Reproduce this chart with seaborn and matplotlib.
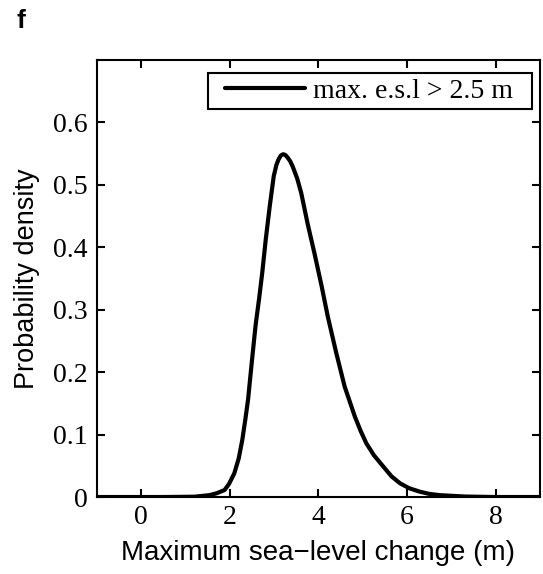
import numpy as np
import pandas as pd
import matplotlib
matplotlib.use("Agg")
import matplotlib.pyplot as plt
from matplotlib.lines import Line2D
from matplotlib.legend_handler import HandlerLine2D
import seaborn as sns

# curve
sea_level = [-1.0, 0.5, 1.2, 1.54, 1.70, 1.88, 1.98, 2.10, 2.20, 2.28, 2.35, 2.41,
             2.50, 2.58, 2.66, 2.73, 2.81, 2.90, 2.99, 3.05, 3.10, 3.15, 3.20, 3.25,
             3.30, 3.36, 3.42, 3.52, 3.61, 3.76, 3.91, 4.07, 4.21, 4.40, 4.59, 4.82,
             4.95, 5.08, 5.25, 5.46, 5.65, 5.84, 6.05, 6.29, 6.50, 6.74, 7.3, 8.0, 9.0]
density = [0.0, 0.0, 0.0005, 0.003, 0.006, 0.0112, 0.021, 0.038, 0.062, 0.0915, 0.125, 0.156,
           0.220, 0.275, 0.318, 0.359, 0.413, 0.466, 0.514, 0.532, 0.541, 0.547, 0.549, 0.548,
           0.544, 0.538, 0.529, 0.510, 0.487, 0.436, 0.390, 0.338, 0.289, 0.231, 0.177, 0.129,
           0.106, 0.086, 0.067, 0.049, 0.033, 0.022, 0.014, 0.0085, 0.005, 0.003, 0.0008, 0.0, 0.0]
legend_label = "max. e.s.l > 2.5 m"
x_ticks = [0, 2, 4, 6, 8]
y_ticks = [0, 0.1, 0.2, 0.3, 0.4, 0.5, 0.6]

df = pd.DataFrame({"x": sea_level, "y": density})

sns.set_style("ticks")
plt.rcParams["font.family"] = ["Liberation Serif", "DejaVu Serif"]
plt.rcParams["axes.linewidth"] = 1.5
plt.rcParams["text.color"] = "black"
plt.rcParams["axes.labelcolor"] = "black"

fig = plt.figure(figsize=(5.43, 5.74), dpi=100)
ax = fig.add_axes([0.1786, 0.1341, 0.8159, 0.7614])

sns.lineplot(data=df, x="x", y="y", ax=ax, color="black", linewidth=3.0,
             label=legend_label + "  ", sort=False, solid_joinstyle="round",
             solid_capstyle="round")

ax.set_xlim(-1, 9)
ax.set_ylim(0, 0.7)
ax.set_xticks(x_ticks)
ax.set_xticklabels([str(t) for t in x_ticks])
ax.set_yticks(y_ticks)
ax.set_yticklabels(["0" if t == 0 else f"{t:.1f}" for t in y_ticks])
ax.tick_params(direction="in", length=6, width=1.5, top=True, right=True,
               labelsize=20, colors="black")
ax.tick_params(axis="y", pad=7)
ax.tick_params(axis="x", pad=6)
for s in ax.spines.values():
    s.set_visible(True)
    s.set_color("black")

sans = ["Liberation Sans", "DejaVu Sans"]
ax.set_xlabel("Maximum sea\u2212level change (m)", fontsize=20, family=sans, labelpad=7)
ax.set_ylabel("Probability density", fontsize=19.5, family=sans, labelpad=9)

leg = ax.legend(loc="upper right", fontsize=20, frameon=True, fancybox=False,
                handlelength=3.3, borderpad=0.18, handletextpad=0.3,
                borderaxespad=0, bbox_to_anchor=(0.982, 0.970),
                handler_map={Line2D: HandlerLine2D(xpad=0.44)})
leg.get_frame().set_edgecolor("black")
leg.get_frame().set_linewidth(1.5)
leg.get_frame().set_alpha(1)

fig.text(0.031, 0.951, "f", fontsize=19, fontweight="bold", family=sans)

fig.savefig("out.png", dpi=100)
